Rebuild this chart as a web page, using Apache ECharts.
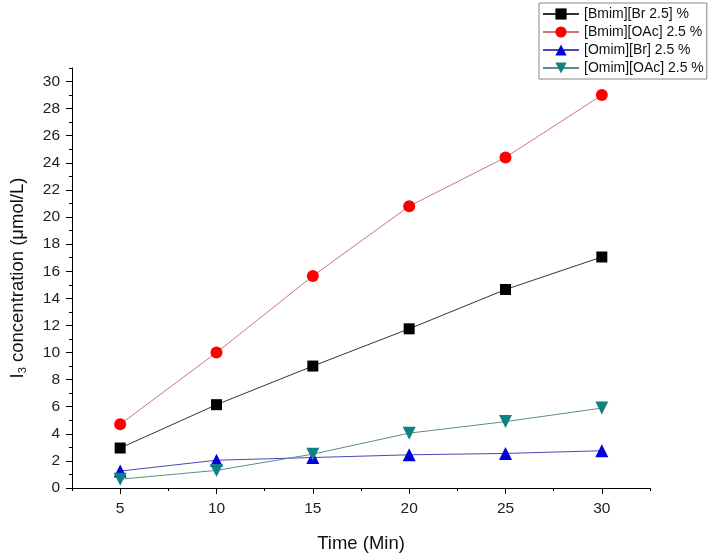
<!DOCTYPE html>
<html>
<head>
<meta charset="utf-8">
<script src="https://cdn.jsdelivr.net/npm/echarts@6/dist/echarts.min.js"></script>
<style>
  html, body { margin: 0; padding: 0; background: #fff; }
  #chart { width: 714px; height: 558px; }
</style>
</head>
<body>
<div id="chart"></div>
<script>
// ---- data ----
const times = [5, 10, 15, 20, 25, 30];
const bmimBr = [2.95, 6.15, 9.0, 11.75, 14.65, 17.05];
const bmimOAc = [4.7, 10.0, 15.65, 20.8, 24.4, 29.0];
const omimBr = [1.25, 2.05, 2.25, 2.45, 2.55, 2.75];
const omimOAc = [0.65, 1.3, 2.5, 4.05, 4.9, 5.9];
const seriesNames = ['[Bmim][Br 2.5] %', '[Bmim][OAc] 2.5 %', '[Omim][Br] 2.5 %', '[Omim][OAc] 2.5 %'];
const xTickLabels = [5, 10, 15, 20, 25, 30];
const yTickLabels = [0, 2, 4, 6, 8, 10, 12, 14, 16, 18, 20, 22, 24, 26, 28, 30];

const pairs = arr => times.map((t, i) => [t, arr[i]]);
const font = 'Liberation Sans, Arial, sans-serif';

const chart = echarts.init(document.getElementById('chart'));
const axisLineStyle = { color: '#000', width: 1 };

chart.setOption({
  animation: false,
  backgroundColor: '#fff',
  grid: { left: 72, top: 68, right: 64, bottom: 67, containLabel: false },
  legend: {
    orient: 'vertical',
    left: 539, top: 3,
    borderColor: '#888', borderWidth: 1,
    padding: [4, 3, 4, 3],
    itemGap: 4, itemWidth: 36, itemHeight: 14,
    textStyle: { fontFamily: font, fontSize: 14, color: '#111' },
    data: seriesNames
  },
  xAxis: [
    {
      type: 'value', min: 2.5, max: 32.5, position: 'bottom',
      axisLine: { show: true, lineStyle: axisLineStyle },
      axisTick: { show: true, inside: false, length: 6, lineStyle: axisLineStyle, customValues: xTickLabels },
      axisLabel: { show: true, margin: 13, fontFamily: font, fontSize: 15.5, color: '#222', customValues: xTickLabels },
      splitLine: { show: false },
      name: 'Time (Min)', nameLocation: 'middle', nameGap: 46,
      nameTextStyle: { fontFamily: font, fontSize: 18.5, color: '#111' }
    },
    {
      type: 'value', min: 2.5, max: 32.5, interval: 2.5, position: 'bottom',
      axisLine: { show: false },
      axisTick: { show: true, inside: false, length: 3, lineStyle: axisLineStyle },
      axisLabel: { show: false },
      splitLine: { show: false }
    }
  ],
  yAxis: [
    {
      type: 'value', min: 0, max: 31, position: 'left',
      axisLine: { show: true, lineStyle: axisLineStyle },
      axisTick: { show: true, inside: false, length: 6, lineStyle: axisLineStyle, customValues: yTickLabels },
      axisLabel: { show: true, margin: 12, fontFamily: font, fontSize: 15.5, color: '#222', customValues: yTickLabels },
      splitLine: { show: false },
      name: 'I{sub|3} concentration (\u03bcmol/L)', nameLocation: 'middle', nameGap: 44, nameRotate: 90,
      nameTextStyle: {
        fontFamily: font, fontSize: 18.5, color: '#111',
        rich: { sub: { fontFamily: font, fontSize: 11, color: '#111', verticalAlign: 'bottom', padding: [10, 0, 0, 0] } }
      }
    },
    {
      type: 'value', min: 0, max: 31, interval: 1, position: 'left',
      axisLine: { show: false },
      axisTick: { show: true, inside: false, length: 3, lineStyle: axisLineStyle },
      axisLabel: { show: false },
      splitLine: { show: false }
    }
  ],
  series: [
    {
      name: seriesNames[0], type: 'line', data: pairs(bmimBr),
      symbol: 'rect', symbolSize: 11,
      itemStyle: { color: '#000' }, lineStyle: { color: '#333', width: 1 }
    },
    {
      name: seriesNames[1], type: 'line', data: pairs(bmimOAc),
      symbol: 'circle', symbolSize: 12,
      itemStyle: { color: '#f00' }, lineStyle: { color: '#c87878', width: 1 }
    },
    {
      name: seriesNames[2], type: 'line', data: pairs(omimBr),
      symbol: 'triangle', symbolSize: 13,
      itemStyle: { color: '#0000e0' }, lineStyle: { color: '#4848b8', width: 1 }
    },
    {
      name: seriesNames[3], type: 'line', data: pairs(omimOAc),
      symbol: 'triangle', symbolRotate: 180, symbolSize: 13,
      itemStyle: { color: '#108080' }, lineStyle: { color: '#5c8c8c', width: 1 }
    }
  ]
});
</script>
</body>
</html>
